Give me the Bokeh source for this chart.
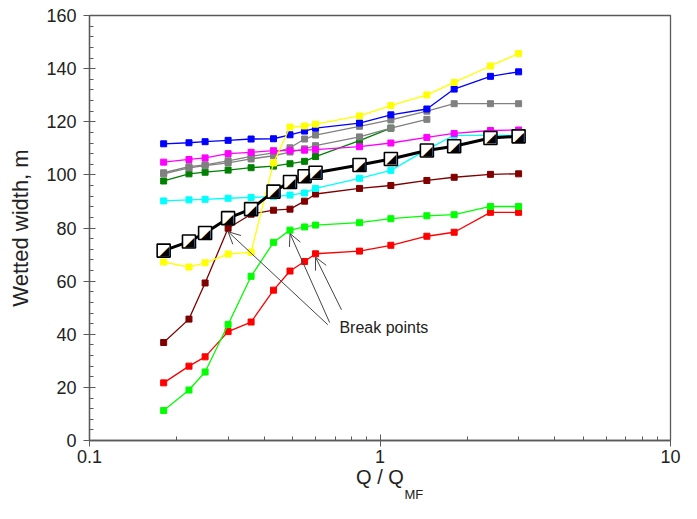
from bokeh.plotting import figure
from bokeh.models import Range1d, FixedTicker, SingleIntervalTicker, Label, Arrow, OpenHead, Title
from bokeh.core.properties import value
from bokeh.embed import file_html
from bokeh.resources import INLINE

# Q / Q_MF
q = [0.18, 0.22, 0.25, 0.30, 0.36, 0.43, 0.49, 0.55, 0.60, 0.85, 1.09, 1.45, 1.80, 2.40, 3.00]

blue = [111.7, 112.1, 112.5, 113.0, 113.5, 113.6, 115.1, 116.5, 117.6, 119.5, 122.6, 124.8, 132.3, 137.1, 138.8]
yellow = [67.2, 65.3, 66.9, 70.2, 70.9, 104.5, 118.0, 118.4, 119.1, 122.2, 126.1, 130.1, 134.8, 141.0, 145.7]
magenta = [104.8, 105.8, 106.4, 108.0, 108.5, 109.1, 109.1, 109.3, 109.5, 110.6, 112.0, 114.1, 115.6, 116.7, 116.9]
grey1 = [100.8, 103.1, 103.8, 105.3, 107.0, 108.3, 110.2, 113.5, 115.0, 118.3, 120.7, 124.0, 126.8, 126.8, 126.8]
grey2 = [100.4, 102.6, 103.5, 104.5, 106.0, 107.2, 108.6, 109.8, 111.0, 114.3, 117.6, 120.9]
dkgreen = [97.7, 100.4, 101.0, 101.8, 102.7, 103.3, 104.2, 105.1, 106.9, 112.9, 117.6]
cyan = [90.2, 90.6, 90.8, 91.2, 91.5, 91.8, 92.4, 93.2, 94.9, 98.7, 101.7, 109.5, 114.9, 114.9, 114.9]
black = [71.5, 74.9, 78.1, 83.7, 87.1, 93.7, 97.3, 99.5, 100.8, 103.7, 106.0, 109.2, 110.8, 113.9, 114.5]
brown = [36.9, 45.7, 59.3, 79.9, 85.2, 86.7, 87.1, 90.1, 92.8, 94.9, 96.0, 97.9, 99.1, 100.2, 100.4]
green = [11.3, 19.0, 25.8, 43.7, 61.8, 74.6, 79.2, 80.4, 81.1, 82.0, 83.5, 84.6, 85.0, 88.1, 88.1]
red = [21.7, 28.0, 31.5, 41.0, 44.6, 56.6, 63.8, 67.4, 70.3, 71.3, 73.5, 76.9, 78.4, 85.9, 85.9]

# break points: (series, index)
break_idx = {"brown": 3, "green": 6, "red": 8}

x_ticks = [0.1, 1, 10]
x_minor = [0.2, 0.3, 0.4, 0.5, 0.6, 0.7, 0.8, 0.9, 2, 3, 4, 5, 6, 7, 8, 9]

FONT = "Liberation Sans"
AX = "#5a5a5a"
TXT = "#222222"

p = figure(width=681, height=503, x_axis_type="log", output_backend="svg",
           toolbar_location=None, x_range=Range1d(0.1, 10), y_range=Range1d(0, 160),
           min_border_left=89, min_border_right=11, min_border_top=15, min_border_bottom=63)
p.grid.visible = False
p.outline_line_color = AX
p.outline_line_width = 1.3
p.background_fill_color = "white"
p.border_fill_color = "white"

p.xaxis.ticker = FixedTicker(ticks=x_ticks, minor_ticks=x_minor)
p.yaxis.ticker = SingleIntervalTicker(interval=20, num_minor_ticks=5)
p.xaxis.major_label_overrides = {0.1: "0.1", 1: "1", 10: "10"}
for ax in (p.xaxis[0], p.yaxis[0]):
    ax.axis_line_color = AX
    ax.axis_line_width = 1.3
    ax.major_tick_line_color = AX
    ax.minor_tick_line_color = AX
    ax.major_tick_in = 6
    ax.major_tick_out = 6
    ax.minor_tick_in = 4
    ax.minor_tick_out = 0
    ax.major_label_text_font = FONT
    ax.major_label_text_font_size = "18px"
    ax.major_label_text_color = TXT
    ax.axis_label_text_font = FONT
    ax.axis_label_text_font_style = "normal"
    ax.axis_label_text_font_size = "22px"
    ax.axis_label_text_color = TXT
p.yaxis.major_label_standoff = 7
p.xaxis.major_label_standoff = 3
p.yaxis.axis_label = "Wetted width, m"
p.yaxis.axis_label_standoff = 10
p.xaxis.axis_label = "Q / Q"
p.xaxis.axis_label_text_font_size = "20px"
p.xaxis.axis_label_standoff = 0

# subscript of the x axis label, placed in the panel below the axis
sub = Title(text="MF", align="left", offset=315, standoff=-22, text_font=FONT,
            text_font_size="13px", text_font_style="normal", text_color=TXT)
p.add_layout(sub, "below")

def series(ys, color, lw=1.3, size=6):
    xs = q[:len(ys)]
    p.line(xs, ys, line_color=color, line_width=lw)
    p.scatter(xs, ys, marker="square", size=size, fill_color=color, line_color=color)

series(red, "#ff0000")
series(green, "#00ff00")
series(brown, "#800000")
series(cyan, "#00ffff")
series(dkgreen, "#008000")
series(grey2, "#808080")
series(grey1, "#808080")
series(magenta, "#ff00ff")
series(blue, "#0000ff")
series(yellow, "#ffff00")

# black benchmark series with half-filled squares
p.line(q, black, line_color="black", line_width=3)
p.scatter(q, black, marker="square", size=13, fill_color="white", line_color="black", line_width=1.6)
p.text(q, black, text=["\u25e2"] * len(q), text_font=value("DejaVu Sans"), text_font_size="13px",
       text_align="center", text_baseline="middle", text_color="black", x_offset=0.5, y_offset=0)

# annotations
lbl_x, lbl_y = 0.725, 42.5
p.add_layout(Label(x=lbl_x, y=lbl_y, text="Break points", text_font=FONT, text_font_size="16px",
                   text_color=TXT, text_baseline="middle", text_align="left"))
tails = {"brown": (0.661, 43.6), "green": (0.671, 44.4), "red": (0.737, 49.2)}
src = {"brown": brown, "green": green, "red": red}
for k, i in break_idx.items():
    tx, ty = tails[k]
    p.add_layout(Arrow(x_start=tx, y_start=ty, x_end=q[i], y_end=src[k][i] - 1.3,
                       line_color="#444444", line_width=1,
                       end=OpenHead(size=12, line_color="#444444", line_width=1)))

open("out.html", "w").write(file_html(p, INLINE))
